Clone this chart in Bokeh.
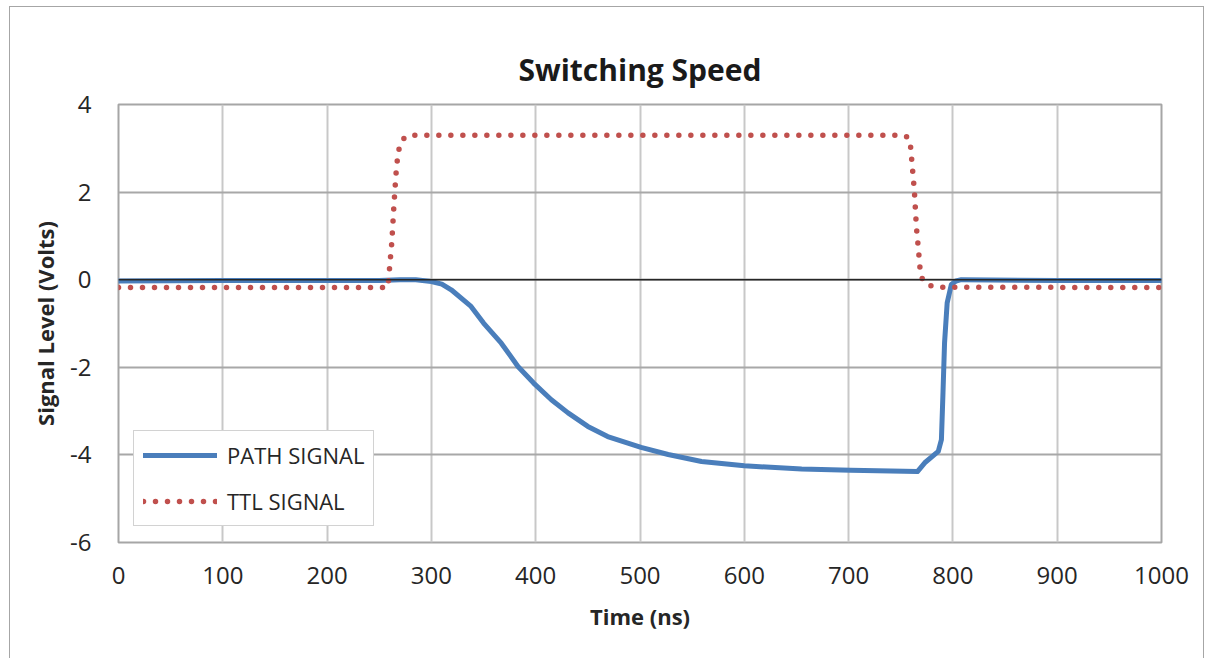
from bokeh.plotting import figure
from bokeh.models import Span, Legend, LegendItem, Range1d, FixedTicker
from bokeh.embed import file_html
from bokeh.resources import INLINE

# ---- data ----
path_t = [0, 100, 200, 250, 270, 285, 300, 310, 319, 338, 350, 367, 383, 398, 415, 431,
          450, 469, 501, 527, 559, 600, 655, 702, 766, 773, 786, 789, 790.5, 792, 794.5,
          798.5, 803, 808, 900, 1000]
path_v = [-0.03, -0.02, -0.02, -0.02, 0.0, 0.0, -0.04, -0.1, -0.23, -0.61, -0.99, -1.45,
          -1.98, -2.36, -2.74, -3.04, -3.35, -3.58, -3.83, -3.99, -4.15, -4.25, -4.32,
          -4.35, -4.38, -4.18, -3.92, -3.65, -2.58, -1.44, -0.53, -0.11, -0.03, 0.0,
          -0.02, -0.02]

ttl_t = [0, 258, 259, 260, 262, 264, 266, 268, 271, 275, 280, 751, 757, 759, 760, 763,
         765, 767, 769, 772, 776, 785, 1000]
ttl_v = [-0.18, -0.18, 0.0, 0.3, 0.84, 1.67, 2.4, 2.9, 3.15, 3.26, 3.3, 3.3, 3.25, 3.15,
         2.88, 2.05, 1.2, 0.68, 0.11, -0.05, -0.12, -0.17, -0.18]

x_ticks = [0, 100, 200, 300, 400, 500, 600, 700, 800, 900, 1000]
x_tick_labels = ["0", "100", "200", "300", "400", "500", "600", "700", "800", "900", "1000"]
y_ticks = [-6, -4, -2, 0, 2, 4]
y_tick_labels = ["-6", "-4", "-2", "0", "2", "4"]

FONT = "Open Sans"
TXT = "#262626"

p = figure(width=1195, height=652, output_backend="svg", toolbar_location=None,
           x_range=Range1d(0, 1000), y_range=Range1d(-6, 4),
           min_border_left=108, min_border_right=44, min_border_top=97,
           min_border_bottom=117, title="Switching Speed")
p.margin = (6, 0, 0, 9)
p.styles = {"border-top": "1.5px solid #a6a6a6", "border-left": "1.5px solid #a6a6a6",
            "border-right": "1.5px solid #a6a6a6"}

p.title.text_font = FONT
p.title.text_font_size = "30px"
p.title.text_font_style = "bold"
p.title.text_color = "#1a1a1a"
p.title.align = "center"
p.title.standoff = 30
p.title.offset = 6

p.outline_line_color = "#a6a6a6"
p.outline_line_width = 2

for ax, ticks, labels in ((p.xaxis[0], x_ticks, x_tick_labels),
                          (p.yaxis[0], y_ticks, y_tick_labels)):
    ax.ticker = FixedTicker(ticks=ticks)
    ax.major_label_overrides = {t: l for t, l in zip(ticks, labels)}
    ax.axis_line_color = None
    ax.major_tick_line_color = None
    ax.minor_tick_line_color = None
    ax.major_label_text_font = FONT
    ax.major_label_text_font_size = "24px"
    ax.major_label_text_color = TXT
    ax.axis_label_text_font = FONT
    ax.axis_label_text_font_size = "22px"
    ax.axis_label_text_font_style = "bold"
    ax.axis_label_text_color = TXT

p.xaxis.axis_label = "Time (ns)"
p.yaxis.axis_label = "Signal Level (Volts)"
p.xaxis.major_label_standoff = 18
p.yaxis.major_label_standoff = 21
p.xaxis.axis_label_standoff = 14
p.yaxis.axis_label_standoff = 7

p.xgrid.ticker = FixedTicker(ticks=x_ticks)
p.ygrid.ticker = FixedTicker(ticks=y_ticks)
p.xgrid.grid_line_color = "#c8c8c8"
p.xgrid.grid_line_width = 2
p.ygrid.grid_line_color = "#a8a8a8"
p.ygrid.grid_line_width = 2

p.add_layout(Span(location=0, dimension="width", line_color="#262626", line_width=1.5))

r_path = p.line(path_t, path_v, line_color="#4a7ebb", line_width=5,
                line_join="round", line_cap="round")
r_ttl = p.line(ttl_t, ttl_v, line_color="#c0504d", line_width=5.5,
               line_dash="0 12", line_cap="round", line_join="round")

legend = Legend(items=[LegendItem(label="PATH SIGNAL", renderers=[r_path]),
                       LegendItem(label="TTL SIGNAL", renderers=[r_ttl])],
                location=(15, 16), margin=0, padding=9, spacing=16,
                glyph_width=74, glyph_height=24, label_height=24, label_standoff=10,
                label_text_font=FONT, label_text_font_size="22px",
                label_text_color=TXT, border_line_color="#a6a6a6",
                border_line_width=1.5, background_fill_alpha=1.0)
p.add_layout(legend)

open("out.html", "w").write(file_html(p, INLINE))
